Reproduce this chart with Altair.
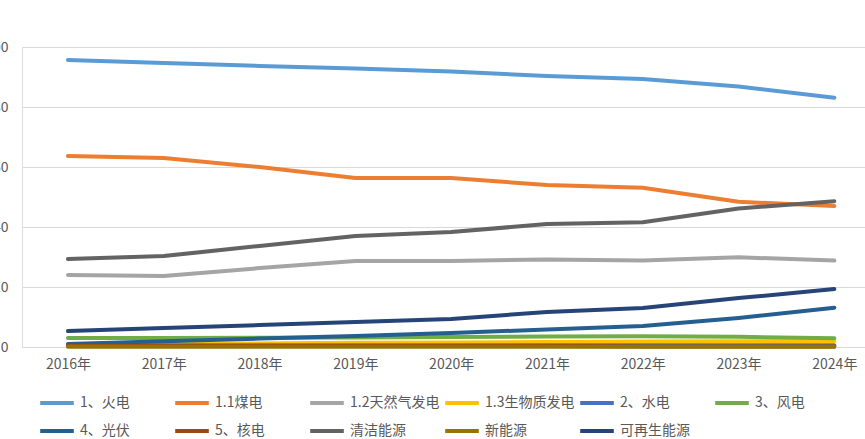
import altair as alt
import pandas as pd

years = [2016, 2017, 2018, 2019, 2020, 2021, 2022, 2023, 2024]
series_names = ["1、火电", "1.1煤电", "1.2天然气发电", "1.3生物质发电", "2、水电", "3、风电",
                "4、光伏", "5、核电", "清洁能源", "新能源", "可再生能源"]
series_colors = ["#5B9BD5", "#ED7D31", "#A5A5A5", "#FFC000", "#4472C4", "#70AD47",
                 "#255E91", "#9E480E", "#636363", "#997300", "#264478"]

fire = [95.7, 94.7, 93.7, 92.8, 91.8, 90.3, 89.3, 86.8, 83.1]
coal = [63.7, 63.0, 60.0, 56.3, 56.3, 54.0, 53.1, 48.4, 47.0]
gas = [24.0, 23.7, 26.3, 28.7, 28.7, 29.2, 28.8, 29.9, 28.8]
biomass = [0.8, 1.0, 1.2, 1.4, 1.5, 1.7, 1.8, 1.9, 2.0]
hydro = [0.6, 0.6, 0.6, 0.6, 0.6, 0.6, 0.6, 0.6, 0.6]
wind = [3.0, 3.0, 3.1, 3.2, 3.3, 3.5, 3.6, 3.4, 2.9]
solar = [1.0, 1.9, 2.8, 3.7, 4.7, 5.8, 7.0, 9.7, 13.1]
nuclear = [0.3, 0.3, 0.3, 0.3, 0.3, 0.3, 0.2, 0.2, 0.2]
clean = [29.3, 30.3, 33.7, 37.0, 38.3, 41.0, 41.6, 46.2, 48.6]
new_energy = [0.1, 0.1, 0.1, 0.1, 0.1, 0.1, 0.1, 0.1, 0.1]
renewable = [5.3, 6.3, 7.3, 8.3, 9.3, 11.7, 13.0, 16.3, 19.3]

y_ticks = [0, 20, 40, 60, 80, 100]

series_values = [fire, coal, gas, biomass, hydro, wind, solar, nuclear, clean, new_energy, renewable]

rows = []
for name, vals in zip(series_names, series_values):
    for yr, v in zip(years, vals):
        rows.append({"series": name, "year": yr, "value": v})
df = pd.DataFrame(rows)

FONT = "Noto Sans CJK SC"
TXT = "#595959"

chart = alt.Chart(df).mark_line(strokeWidth=4, strokeCap="round", strokeJoin="round").encode(
    x=alt.X("year:Q",
            scale=alt.Scale(domain=[2015.52, 2024.32], nice=False, zero=False),
            axis=alt.Axis(values=years, labelExpr="datum.value + '年'", title=None,
                          grid=False, domain=False, ticks=False, labelPadding=10,
                          labelFontSize=14, labelColor=TXT, labelFont=FONT,
                          labelFlush=False, labelOverlap=False)),
    y=alt.Y("value:Q",
            scale=alt.Scale(domain=[0, 100], nice=False),
            axis=alt.Axis(values=y_ticks, title=None, domain=False, ticks=False,
                          labelPadding=14, labelFontSize=14, labelColor=TXT, labelFont=FONT,
                          gridColor="#D9D9D9", gridWidth=1)),
    color=alt.Color("series:N",
                    scale=alt.Scale(domain=series_names, range=series_colors),
                    sort=series_names,
                    legend=alt.Legend(orient="none", legendX=19, legendY=340, columns=6,
                                      direction="horizontal", title=None,
                                      symbolType="M-1.2,0L1.2,0", symbolSize=784,
                                      symbolStrokeWidth=4, labelOffset=7,
                                      columnPadding=-3, rowPadding=4, gridAlign="all",
                                      labelFontSize=14, labelColor=TXT, labelFont=FONT,
                                      padding=0, labelLimit=200)),
).properties(
    width=843, height=300,
    autosize=alt.AutoSizeParams(type="none"),
    padding={"left": 22, "top": 47, "right": 0, "bottom": 92},
).configure_view(stroke=None).configure(background="white")

chart.save("out.html", embed_options={"renderer": "svg", "actions": False})
